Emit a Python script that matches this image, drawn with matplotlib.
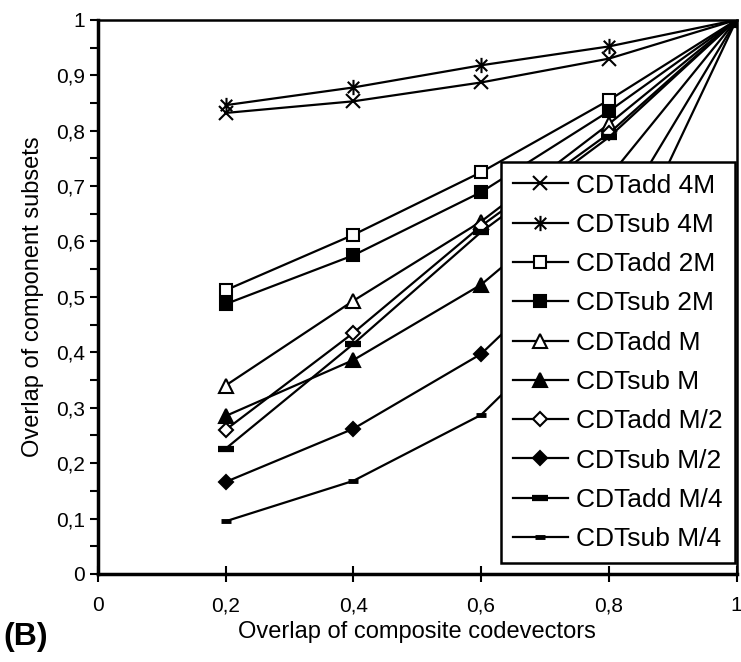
import numpy as np
import matplotlib
matplotlib.use("Agg")
import matplotlib.pyplot as plt
from matplotlib.path import Path
from matplotlib.ticker import MultipleLocator, FuncFormatter

plt.rcParams['font.family'] = ['Liberation Sans', 'DejaVu Sans']

# Данные
x = [0.2, 0.4, 0.6, 0.8, 1.0]
add_4M = [0.832, 0.853, 0.887, 0.930, 1.0]
sub_4M = [0.846, 0.878, 0.918, 0.952, 1.0]
add_2M = [0.512, 0.612, 0.725, 0.855, 1.0]
sub_2M = [0.487, 0.575, 0.689, 0.835, 1.0]
add_M = [0.340, 0.493, 0.636, 0.812, 1.0]
sub_M = [0.285, 0.386, 0.522, 0.716, 1.0]
add_M2 = [0.260, 0.435, 0.628, 0.795, 1.0]
sub_M2 = [0.166, 0.262, 0.397, 0.617, 1.0]
add_M4 = [0.226, 0.415, 0.617, 0.788, 1.0]
sub_M4 = [0.095, 0.168, 0.287, 0.513, 1.0]

labels = ["CDTadd 4M", "CDTsub 4M", "CDTadd 2M", "CDTsub 2M", "CDTadd M",
          "CDTsub M", "CDTadd M/2", "CDTsub M/2", "CDTadd M/4", "CDTsub M/4"]

# звёздочка: вертикаль + косой крест
star = Path([(0, -1), (0, 1), (-0.75, -0.75), (0.75, 0.75), (-0.75, 0.75), (0.75, -0.75)],
            [Path.MOVETO, Path.LINETO, Path.MOVETO, Path.LINETO, Path.MOVETO, Path.LINETO])

styles = [
    dict(marker='x', ms=10, mec='black', mew=1.5),
    dict(marker=star, ms=11, mec='black', mew=1.5),
    dict(marker='s', ms=9, mfc='white', mec='black', mew=1.5),
    dict(marker='s', ms=9, mfc='black', mec='black', mew=1.5),
    dict(marker='^', ms=10, mfc='white', mec='black', mew=1.5),
    dict(marker='^', ms=10, mfc='black', mec='black', mew=1.5),
    dict(marker='D', ms=7.5, mfc='white', mec='black', mew=1.5),
    dict(marker='D', ms=7.5, mfc='black', mec='black', mew=1.5),
    dict(marker='_', ms=11, mec='black', mew=4.5),
    dict(marker='_', ms=7, mec='black', mew=3.5),
]
series = [add_4M, sub_4M, add_2M, sub_2M, add_M, sub_M, add_M2, sub_M2, add_M4, sub_M4]

fig = plt.figure(figsize=(7.41, 6.62), dpi=100)
ax = fig.add_axes([0.132, 0.133, 0.862, 0.837])

for y, lab, st in zip(series, labels, styles):
    ax.plot(x, y, color='black', lw=1.6, label=lab, **st)

ax.set_xlim(0, 1)
ax.set_ylim(0, 1)
ax.xaxis.set_major_locator(MultipleLocator(0.2))
ax.yaxis.set_major_locator(MultipleLocator(0.1))
ax.yaxis.set_minor_locator(MultipleLocator(0.05))

fmt = FuncFormatter(lambda v, p: ('%g' % round(v, 2)).replace('.', ','))
ax.xaxis.set_major_formatter(fmt)
ax.yaxis.set_major_formatter(fmt)

ax.tick_params(axis='x', direction='inout', length=12, width=1.5, labelsize=15, pad=10)
ax.tick_params(axis='y', which='both', direction='out', length=6, width=1.5, labelsize=15, pad=3)

for side in ['left', 'bottom']:
    ax.spines[side].set_linewidth(2.5)
for side in ['top', 'right']:
    ax.spines[side].set_linewidth(1.8)

ax.set_xlabel('Overlap of composite codevectors', fontsize=17, labelpad=4)
ax.set_ylabel('Overlap of component subsets', fontsize=17, labelpad=9)

leg = ax.legend(loc='upper left', bbox_to_anchor=(0.631, 0.744), borderaxespad=0,
                fontsize=19, frameon=True, fancybox=False, edgecolor='black',
                handlelength=2.1, handletextpad=0.3, labelspacing=0.58,
                borderpad=0.45)
leg.get_frame().set_linewidth(1.8)
leg.get_frame().set_alpha(1)

fig.text(0.005, 0.025, '(B)', fontsize=23, fontweight='bold')

fig.savefig('out.png', dpi=100)
